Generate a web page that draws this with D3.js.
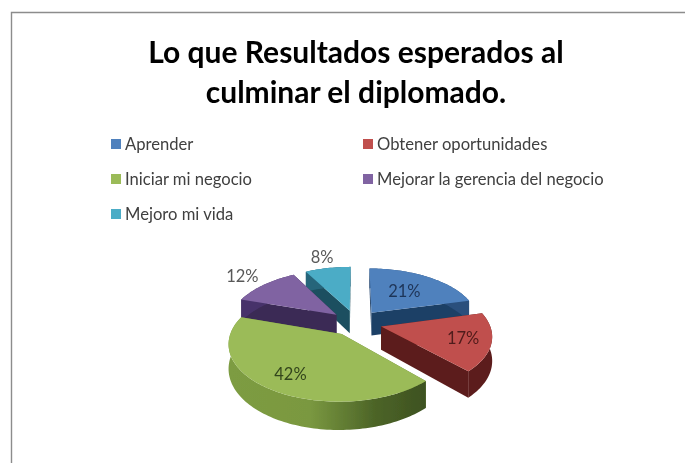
<!DOCTYPE html>
<html><head><meta charset="utf-8">
<script src="https://cdn.jsdelivr.net/npm/d3@7"></script>
<style>html,body{margin:0;padding:0;background:#fff;}svg{display:block;}</style>
</head><body><div id="c"></div>
<script>
const titleLines = ["Lo que Resultados esperados al", "culminar el diplomado."];
const categories = ["Aprender", "Obtener oportunidades", "Iniciar mi negocio", "Mejorar la gerencia del negocio", "Mejoro mi vida"];
const values = [21, 17, 42, 12, 8];
const topColors = ["#4f81bd", "#c0504d", "#9bbb59", "#8064a2", "#4bacc6"];
const sideColors = ["#1e3f66", "#5c1c1b", "#6b8538", "#3b2a55", "#1d5060"];
const wallColors = ["#2a4f7c", "#5c1c1b", "#6b8538", "#47336a", "#26657a"];
const labelColors = ["#1f3558", "#4f1a1a", "#33451c", "#595959", "#595959"];
const labelRadial = [0.56, 0.75, 0.75, 1.33, 1.3];

const W = 685, H = 463;
const cx = 356, cy = 346, R = 108, tilt = 0.53, persp = 0.15, explode = 0.24, height = 0.215;

const svg = d3.select("#c").append("svg").attr("width", W).attr("height", H);
const defs = svg.append("defs");
defs.append("filter").attr("id", "soft").attr("x", "-5%").attr("y", "-5%").attr("width", "110%").attr("height", "110%")
  .append("feGaussianBlur").attr("stdDeviation", 0.55);
const wallGrad = defs.append("linearGradient").attr("id", "greenWall").attr("gradientUnits", "userSpaceOnUse")
  .attr("x1", 230).attr("x2", 430).attr("y1", 0).attr("y2", 0);
[[0, "#7d9c42"], [0.4, "#7a9840"], [0.72, "#4d6528"], [1, "#3c5020"]].forEach(s => wallGrad.append("stop").attr("offset", s[0]).attr("stop-color", s[1]));
const root = svg.append("g").attr("filter", "url(#soft)");

// frame
root.append("path").attr("d", `M11.5,${H} V12.5 H${W}`).attr("fill", "none").attr("stroke", "#8c8c8c").attr("stroke-width", 1.4);

// title
root.append("g").selectAll("text").data(titleLines).join("text")
  .attr("x", 356).attr("y", (d, i) => 63 + i * 40).attr("text-anchor", "middle")
  .attr("font-family", "Lato").attr("font-weight", 700).attr("font-size", 30).attr("fill", "#000").text(d => d);

// legend
const legendCol = d3.scaleOrdinal().domain([0, 1]).range([111, 363]);
const legendRow = d3.scalePoint().domain([0, 1, 2]).range([144, 214]);
const leg = root.append("g").selectAll("g").data(categories).join("g")
  .attr("transform", (d, i) => `translate(${legendCol(i % 2)},${legendRow(Math.floor(i / 2))})`);
leg.append("rect").attr("x", 0).attr("y", -5).attr("width", 10).attr("height", 10).attr("fill", (d, i) => topColors[i]);
leg.append("text").attr("x", 14).attr("y", 5.5).attr("font-family", "Lato").attr("font-size", 16.6).attr("fill", "#404040").text(d => d);

// pie with simple perspective projection
const pie = d3.pie().sort(null).value(d => d);
const arcs = pie(values);
const project = (X, Y, Z) => {
  const s = 1 / (1 + persp * Y);
  return [cx + R * X * s, cy - R * (Y * tilt + Z) * s];
};
const line = d3.line().curve(d3.curveLinear);
const slices = arcs.map((a, i) => {
  const mid = (a.startAngle + a.endAngle) / 2;
  const ox = Math.sin(mid) * explode, oy = Math.cos(mid) * explode;
  const n = Math.max(4, Math.round((a.endAngle - a.startAngle) * 40));
  const angs = d3.range(n + 1).map(k => a.startAngle + (a.endAngle - a.startAngle) * k / n);
  const P = (t, r, z) => project(ox + r * Math.sin(t), oy + r * Math.cos(t), z);
  return { i, a, mid, ox, oy, angs, P };
});
const order = slices.slice().sort((p, q) => q.oy - p.oy);
const g = root.append("g");
order.forEach(s => {
  const { i, a, angs, P } = s;
  const apexT = P(0, 0, height), apexB = P(0, 0, 0);
  const face = t => [apexT, P(t, 1, height), P(t, 1, 0), apexB];
  g.append("path").attr("d", line(face(a.startAngle)) + "Z").attr("fill", sideColors[i]);
  g.append("path").attr("d", line(face(a.endAngle)) + "Z").attr("fill", sideColors[i]);
  const wall = angs.map(t => P(t, 1, height)).concat(angs.slice().reverse().map(t => P(t, 1, 0)));
  g.append("path").attr("d", line(wall) + "Z").attr("fill", i === 2 ? "url(#greenWall)" : wallColors[i]);
  const top = [apexT].concat(angs.map(t => P(t, 1, height)));
  g.append("path").attr("d", line(top) + "Z").attr("fill", topColors[i]);
});

// labels
root.append("g").selectAll("text").data(slices).join("text")
  .attr("text-anchor", "middle").attr("font-family", "Lato").attr("font-size", 16.5).attr("fill", s => labelColors[s.i])
  .attr("x", s => s.P(s.mid, labelRadial[s.i], height)[0])
  .attr("y", s => s.P(s.mid, labelRadial[s.i], height)[1] + 5.5)
  .text(s => values[s.i] + "%");
</script></body></html>
